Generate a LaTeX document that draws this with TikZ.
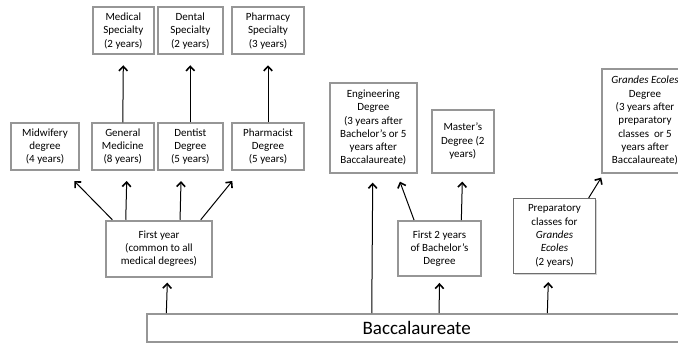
\documentclass[tikz,border=0pt]{standalone}
\usepackage{fontspec}
\setmainfont{Carlito}
\usetikzlibrary{arrows.meta,shadows}
\definecolor{boxgray}{RGB}{150,150,150}
\definecolor{prepgray}{RGB}{110,110,110}
\tikzset{
  box/.style={draw=boxgray, line width=1.9pt, fill=white, align=center, inner sep=1pt,
    font=\fontsize{11}{13.3}\selectfont},
  prepbox/.style={draw=prepgray, line width=0.7pt, fill=white, align=center, inner sep=1pt,
    font=\fontsize{11}{13.3}\selectfont,
    drop shadow={opacity=0.35, shadow xshift=1.5pt, shadow yshift=-1.5pt}},
  arr/.style={line width=1pt, -{Straight Barb[length=4.5pt,width=8.5pt,line width=1.6pt]}}
}
\begin{document}
\begin{tikzpicture}[x=1pt,y=-1pt]
\useasboundingbox (0,0) rectangle (678,343);
\clip (0,0) rectangle (678,343);
% top specialties
\node[box, minimum width=61.3pt, minimum height=47pt] (medspec) at (123.3,30.8) {Medical\\Specialty\\(2 years)};
\node[box, minimum width=64.7pt, minimum height=47pt] (dentspec) at (190.3,30.8) {Dental\\Specialty\\(2 years)};
\node[box, minimum width=71.4pt, minimum height=47pt] (pharmspec) at (268,30.8) {Pharmacy\\Specialty\\(3 years)};
% medical degrees
\node[box, minimum width=68.6pt, minimum height=46.7pt] (mid) at (45,146.7) {Midwifery\\degree\\(4 years)};
\node[box, minimum width=62.3pt, minimum height=46.7pt] (gm) at (122.8,146.7) {General\\Medicine\\(8 years)};
\node[box, minimum width=64.7pt, minimum height=46.7pt] (dentist) at (190.3,146.7) {Dentist\\Degree\\(5 years)};
\node[box, minimum width=71.4pt, minimum height=46.7pt] (pharmacist) at (268,146.7) {Pharmacist\\Degree\\(5 years)};
\node[box, minimum width=106pt, minimum height=56pt] (fy) at (159,248.7) {First year\\(common to all\\medical degrees)};
% right side
\node[box, minimum width=86.7pt, minimum height=90pt] (eng) at (373.3,127.7) {Engineering\\Degree\\(3 years after\\Bachelor’s or 5\\years after\\Baccalaureate)};
\node[box, minimum width=62.3pt, minimum height=62.7pt] (master) at (462.8,141.3) {Master’s\\Degree (2\\years)};
\node[box, minimum width=86.6pt, minimum height=103.7pt] (grandes) at (645,120.8) {\textit{Grandes Ecoles}\\Degree\\(3 years after\\preparatory\\classes~ or 5\\years after\\Baccalaureate)};
\node[box, minimum width=82.4pt, minimum height=55pt] (f2y) at (439.5,248.5) {First 2 years\\of Bachelor’s\\Degree};
\node[prepbox, minimum width=82.4pt, minimum height=75pt] (prep) at (554.5,235.8) {Preparatory\\classes for\\\textit{Grandes}\\\textit{Ecoles}\\(2 years)};
\node[box, minimum width=540pt, minimum height=27.7pt, font=\fontsize{19}{22}\selectfont] (bac) at (416.7,327.8) {Baccalaureate};
% arrows
\draw[arr] (gm.north) -- ([yshift=-10pt]medspec.south);
\draw[arr] (dentist.north) -- ([yshift=-10pt]dentspec.south);
\draw[arr] (pharmacist.north) -- ([yshift=-10pt]pharmspec.south);
\draw[arr] ([xshift=7.3pt]fy.north west) -- ([xshift=-6pt,yshift=-10pt]mid.south east);
\draw[arr] ([xshift=20.7pt]fy.north west) -- ([xshift=3.9pt,yshift=-10pt]gm.south);
\draw[arr] ([xshift=75pt]fy.north west) -- ([xshift=-9.3pt,yshift=-10pt]dentist.south);
\draw[arr] ([xshift=95.7pt]fy.north west) -- ([xshift=1pt,yshift=-10pt]pharmacist.south west);
\draw[arr] ([xshift=20.6pt]bac.north west) -- ([xshift=8.3pt,yshift=-5pt]fy.south);
\draw[arr] ([xshift=226pt]bac.north west) -- ([xshift=-0.6pt,yshift=-9pt]eng.south);
\draw[arr] ([xshift=16.7pt]f2y.north west) -- ([xshift=-17.7pt,yshift=-8pt]eng.south east);
\draw[arr] ([xshift=64pt]f2y.north west) -- ([xshift=-0.5pt,yshift=-8pt]master.south);
\draw[arr] ([xshift=293.3pt]bac.north west) -- ([yshift=-6pt]f2y.south);
\draw[arr] ([xshift=-7.4pt]prep.north east) -- ([xshift=0.5pt,yshift=-4pt]grandes.south west);
\draw[arr] ([xshift=401.6pt]bac.north west) -- ([xshift=-6.2pt,yshift=-8.4pt]prep.south);
\end{tikzpicture}
\end{document}
